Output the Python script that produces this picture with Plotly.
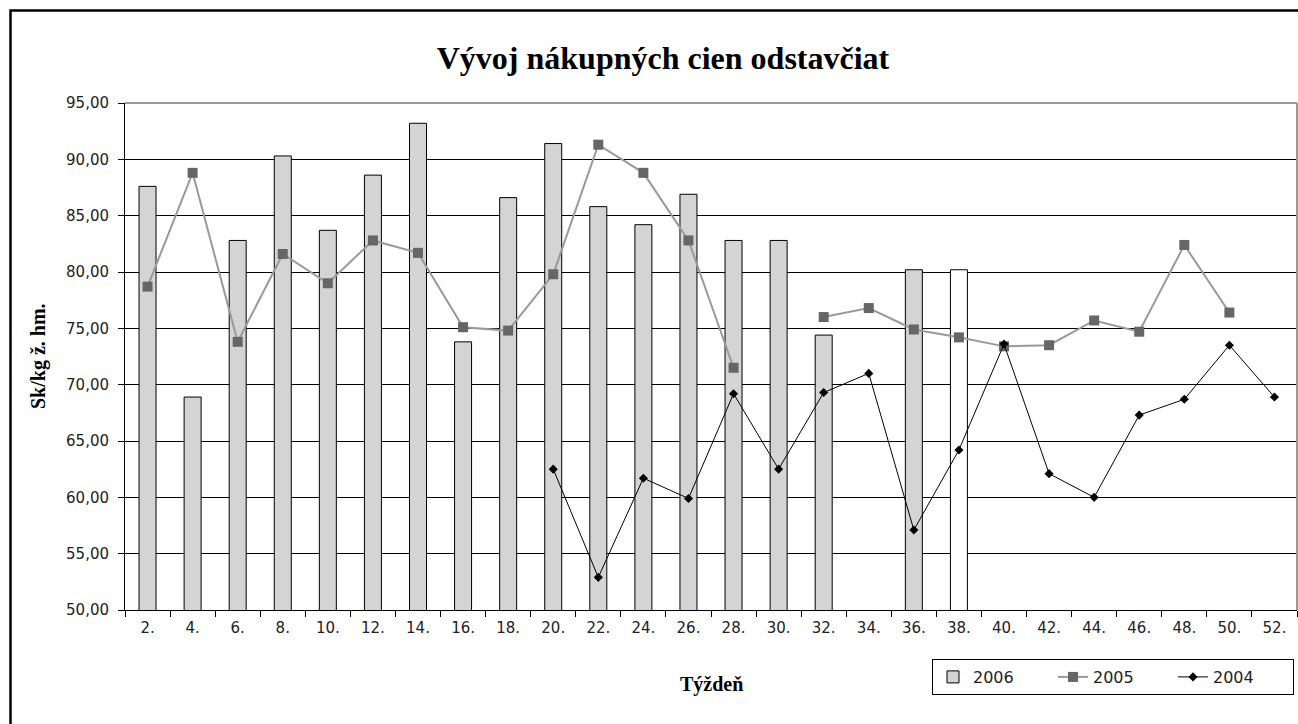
import plotly.graph_objects as go

weeks = ["2.", "4.", "6.", "8.", "10.", "12.", "14.", "16.", "18.", "20.", "22.", "24.", "26.",
         "28.", "30.", "32.", "34.", "36.", "38.", "40.", "42.", "44.", "46.", "48.", "50.", "52."]

v2006 = [87.6, 68.9, 82.8, 90.3, 83.7, 88.6, 93.2, 73.8, 86.6, 91.4, 85.8, 84.2, 86.9,
         82.8, 82.8, 74.4, None, 80.2, 80.2, None, None, None, None, None, None, None]

v2005 = [78.7, 88.8, 73.8, 81.6, 79.0, 82.8, 81.7, 75.1, 74.8, 79.8, 91.3, 88.8, 82.8,
         71.5, None, 76.0, 76.8, 74.9, 74.2, 73.4, 73.5, 75.7, 74.7, 82.4, 76.4, None]

v2004 = [None, None, None, None, None, None, None, None, None, 62.5, 52.9, 61.7, 59.9,
         69.2, 62.5, 69.3, 71.0, 57.1, 64.2, 73.6, 62.1, 60.0, 67.3, 68.7, 73.5, 68.9]

yticks = [50, 55, 60, 65, 70, 75, 80, 85, 90, 95]

bar_colors = ["#ffffff" if w == "38." else "#d4d4d4" for w in weeks]

W, H = 1298, 724
L, R, T, B = 125, 1297, 103, 610  # plot area in pixels
pw, ph = R - L, B - T


def px_x(x):
    return (x - L) / pw


def px_y(y):
    return (B - y) / ph


fig = go.Figure()
fig.add_trace(go.Bar(
    x=weeks, y=v2006, name="2006", width=0.377,
    marker=dict(color=bar_colors, line=dict(color="#000000", width=1)),
))
fig.add_trace(go.Scatter(
    x=weeks, y=v2005, name="2005", mode="lines+markers",
    line=dict(color="#999999", width=2),
    marker=dict(symbol="square", size=10, color="#666666"),
    connectgaps=False,
))
fig.add_trace(go.Scatter(
    x=weeks, y=v2004, name="2004", mode="lines+markers",
    line=dict(color="#000000", width=1),
    marker=dict(symbol="diamond", size=7, color="#000000"),
    connectgaps=False,
))

axis_font = dict(family="DejaVu Sans, Verdana, sans-serif", size=15, color="#222222")
serif = "Liberation Serif, Times New Roman, serif"

fig.update_layout(
    width=W, height=H,
    margin=dict(l=L, r=W - R, t=T, b=H - B, autoexpand=False),
    paper_bgcolor="#ffffff", plot_bgcolor="#ffffff",
    separators=",.",
    showlegend=True,
    title=dict(text="<b>Vývoj nákupných cien odstavčiat</b>",
               font=dict(family=serif, size=32, color="#000000"),
               x=663 / W, xanchor="center", y=1 - 58 / H, yanchor="middle", yref="container"),
    legend=dict(orientation="h", x=px_x(1294), xanchor="right", y=px_y(659), yanchor="top",
                bordercolor="#000000", borderwidth=1, bgcolor="#ffffff",
                font=dict(family="DejaVu Sans, Verdana, sans-serif", size=16, color="#222222"),
                itemwidth=30, tracegroupgap=0, entrywidth=75, entrywidthmode="pixels"),
    xaxis=dict(type="category", range=[-0.5, 25.5], tickfont=axis_font, showgrid=False,
               showline=True, linecolor="#000000", linewidth=1,
               ticks="outside", ticklen=6, tickcolor="#000000", tickson="boundaries",
               ticklabelstandoff=4),
    yaxis=dict(range=[50, 95], tickvals=yticks, tickformat=".2f", tickfont=axis_font,
               showgrid=True, gridcolor="#000000", gridwidth=1,
               showline=True, linecolor="#000000", linewidth=1,
               ticks="outside", ticklen=6, tickcolor="#000000", zeroline=False,
               ticklabelstandoff=6),
    annotations=[
        dict(text="<b>Sk/kg ž. hm.</b>", xref="paper", yref="paper",
             x=px_x(38), y=px_y(356), textangle=-90, showarrow=False,
             font=dict(family=serif, size=20, color="#000000"), xanchor="center", yanchor="middle"),
        dict(text="<b>Týždeň</b>", xref="paper", yref="paper",
             x=px_x(711), y=px_y(684), showarrow=False,
             font=dict(family=serif, size=20, color="#000000"), xanchor="center", yanchor="middle"),
    ],
    shapes=[
        dict(type="line", xref="paper", yref="paper", x0=0, x1=1, y0=1, y1=1,
             line=dict(color="#999999", width=2), layer="above"),
        dict(type="line", xref="paper", yref="paper", x0=1, x1=1, y0=0, y1=1,
             line=dict(color="#999999", width=2), layer="above"),
        dict(type="rect", xref="paper", yref="paper",
             x0=px_x(10.5), x1=px_x(1340), y0=px_y(760), y1=px_y(10.5),
             line=dict(color="#000000", width=2.5), layer="above"),
    ],
)

fig.write_html(
    "out.html",
    config={"displayModeBar": False},
    post_script="document.body.style.margin='0';document.body.style.overflow='hidden';",
)
